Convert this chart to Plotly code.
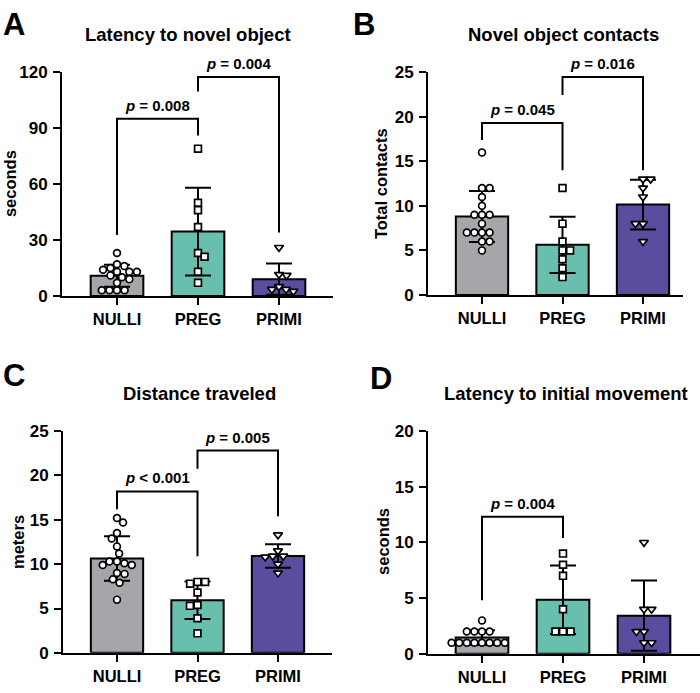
import numpy as np
import plotly.graph_objects as go

# ---------------- data ----------------
groups = ["NULLI", "PREG", "PRIMI"]
bar_colors = ["#a6a5aa", "#69bfae", "#5a4c9f"]
symbols = ["circle", "square", "triangle-down"]

# A: Latency to novel object (seconds)
a_nulli = [23, 17, 16, 15, 14, 13, 13, 13, 11, 10, 9, 7, 3, 3, 3, 3]
a_preg = [79, 50, 46, 37, 23, 21, 13, 7]
a_primi = [26, 11.5, 11, 5, 3.5, 3.5, 2.5]

# B: Novel object contacts (total contacts)
b_nulli = [16, 12, 12, 11, 10, 9, 9, 9, 8, 7, 7, 7, 7, 6, 6, 5]
b_preg = [12, 8, 6, 5, 5, 4, 3, 2]
b_primi = [13, 13, 12, 11, 8, 8, 6]

# C: Distance traveled (meters)
c_nulli = [15.2, 14.7, 13.5, 12.9, 12.0, 11.2, 10.3, 10.3, 10.1, 9.9, 9.9, 9.0, 8.9, 8.3, 7.9, 6.0]
c_preg = [8.0, 7.8, 8.0, 6.8, 5.3, 5.4, 3.9, 2.2]
c_primi = [13.3, 11.5, 10.9, 10.9, 10.8, 10.0, 9.0]

# D: Latency to initial movement (seconds)
d_nulli = [3, 2, 2, 2, 2, 1, 1, 1, 1, 1, 1, 1, 1]
d_preg = [9, 8, 7, 4, 2, 2, 2]
d_primi = [10, 4, 4, 2, 2, 1, 1]

panel_letters = ["A", "B", "C", "D"]
panel_titles = ["Latency to novel object", "Novel object contacts",
                "Distance traveled", "Latency to initial movement"]
y_titles = ["seconds", "Total contacts", "meters", "seconds"]
y_ticks = [[0, 30, 60, 90, 120], [0, 5, 10, 15, 20, 25],
           [0, 5, 10, 15, 20, 25], [0, 5, 10, 15, 20]]
panel_values = [[a_nulli, a_preg, a_primi], [b_nulli, b_preg, b_primi],
                [c_nulli, c_preg, c_primi], [d_nulli, d_preg, d_primi]]

# significance brackets: (left group, right group, bracket height, left leg end, right leg end, label)
brackets = [
    [(0, 1, 95, 32.7, 86, "p = 0.008"), (1, 2, 117.4, 109.6, 34, "p = 0.004")],
    [(0, 1, 19.3, 17.4, 14.0, "p = 0.045"), (1, 2, 24.45, 22.45, 14.0, "p = 0.016")],
    [(0, 1, 18.2, 16.2, 10.9, "p < 0.001"), (1, 2, 22.8, 20.75, 15.4, "p = 0.005")],
    [(0, 1, 12.3, 4.8, 10.4, "p = 0.004")],
]

# ---------------- layout geometry (pixels) ----------------
W, H = 700, 693
# (axis left, axis right, first category x, category spacing, plot top, plot bottom)
geom = [
    (62, 333, 117, 81, 65, 295),
    (428, 683, 482, 80.5, 65, 294),
    (63, 332, 117, 80.5, 434, 662),
    (428, 700, 482, 81, 434, 663),
]
title_pos = [(188, 26), (563, 26), (199, 395), (566, 395)]
letter_pos = [(1, 16), (351, 16), (1, 377), (368, 380)]
ytitle_pos = [(10, 180), (381, 180), (18, 548), (383, 548)]

FONT = "Liberation Sans, Arial, Helvetica, sans-serif"
MARKER_D = 7.6


def swarm(values, px_per_unit, diam):
    vals = np.asarray(values, dtype=float)
    order = np.argsort(-vals, kind="stable")
    placed = []
    offs = np.zeros(len(vals))
    flip = 1
    for idx in order:
        y = vals[idx] * px_per_unit
        ivs = []
        for (px, py) in placed:
            dy = y - py
            if abs(dy) < diam:
                w = np.sqrt(diam ** 2 - dy ** 2)
                ivs.append((px - w, px + w))
        cands = [0.0] + [e for iv in ivs for e in iv]
        valid = [c for c in cands
                 if all(not (a + 1e-6 < c < b - 1e-6) for a, b in ivs)]
        best_abs = min(abs(c) for c in valid)
        ties = [c for c in valid if abs(abs(c) - best_abs) < 1e-6]
        if len(ties) > 1:
            best = max(ties) if flip > 0 else min(ties)
            flip = -flip
        else:
            best = ties[0]
        offs[idx] = best
        placed.append((best, y))
    return offs


fig = go.Figure()
layout = dict(width=W, height=H, margin=dict(l=0, r=0, t=0, b=0),
              paper_bgcolor="white", plot_bgcolor="white",
              showlegend=False, font=dict(family=FONT, color="black"))
annotations = []

for p in range(4):
    axl, axr, cat0, step, top, bot = geom[p]
    ymax = y_ticks[p][-1]
    px_per_unit = (bot - top) / ymax
    xs = "x" if p == 0 else f"x{p+1}"
    ys = "y" if p == 0 else f"y{p+1}"
    xk = "xaxis" if p == 0 else f"xaxis{p+1}"
    yk = "yaxis" if p == 0 else f"yaxis{p+1}"
    xr = [-(cat0 - axl) / step, 2 + (axr - (cat0 + 2 * step)) / step]

    layout[xk] = dict(domain=[axl / W, axr / W], range=xr, anchor=ys,
                      tickvals=[0, 1, 2], ticktext=groups, showline=True,
                      linecolor="black", linewidth=2, ticks="outside",
                      ticklen=7, tickwidth=2, tickcolor="black",
                      showgrid=False, zeroline=False, fixedrange=True,
                      tickfont=dict(family=FONT, size=16.5, color="black", weight="bold"))
    layout[yk] = dict(domain=[1 - bot / H, 1 - top / H], range=[0, ymax], anchor=xs,
                      tickvals=y_ticks[p], showline=True, linecolor="black",
                      linewidth=2, ticks="outside", ticklen=7, tickwidth=2,
                      tickcolor="black", showgrid=False, zeroline=False,
                      fixedrange=True, ticklabelstandoff=2,
                      tickfont=dict(family=FONT, size=17, color="black", weight="bold"))

    vals = panel_values[p]
    means = [float(np.mean(v)) for v in vals]
    sds = [float(np.std(v, ddof=1)) for v in vals]
    fig.add_trace(go.Bar(x=[0, 1, 2], y=means, width=0.65, xaxis=xs, yaxis=ys,
                         marker=dict(color=bar_colors, line=dict(color="black", width=2)),
                         error_y=dict(type="data", array=sds, visible=True,
                                      color="black", thickness=2, width=13)))
    for g in range(3):
        offs = swarm(vals[g], px_per_unit, MARKER_D) / step
        msize = 6.8 if symbols[g] != "triangle-down" else 7.8
        fig.add_trace(go.Scatter(x=g + offs, y=vals[g], mode="markers",
                                 xaxis=xs, yaxis=ys, cliponaxis=False,
                                 marker=dict(symbol=symbols[g], size=msize, color="white",
                                             line=dict(color="black", width=1.7))))
    for (i, j, yb, yl, yr, lab) in brackets[p]:
        fig.add_trace(go.Scatter(x=[i, i, j, j], y=[yl, yb, yb, yr], mode="lines",
                                 xaxis=xs, yaxis=ys, cliponaxis=False,
                                 line=dict(color="black", width=2)))
        txt = "<i>p</i>" + lab[1:]
        annotations.append(dict(x=(i + j) / 2, y=yb, xref=xs, yref=ys, text=txt,
                                showarrow=False, yanchor="bottom", yshift=3,
                                font=dict(family=FONT, size=15, color="black", weight="bold")))

    tx, ty = title_pos[p]
    annotations.append(dict(x=tx / W, y=1 - ty / H, xref="paper", yref="paper",
                            text=panel_titles[p], showarrow=False, xanchor="center",
                            yanchor="middle",
                            font=dict(family=FONT, size=18.5, color="black", weight="bold")))
    lx, ly = letter_pos[p]
    annotations.append(dict(x=lx / W, y=1 - ly / H, xref="paper", yref="paper",
                            text=panel_letters[p], showarrow=False, xanchor="left",
                            yanchor="middle",
                            font=dict(family=FONT, size=31, color="black", weight="bold")))
    yx, yy = ytitle_pos[p]
    annotations.append(dict(x=yx / W, y=1 - yy / H, xref="paper", yref="paper",
                            text=y_titles[p], showarrow=False, textangle=-90,
                            xanchor="center", yanchor="middle",
                            font=dict(family=FONT, size=16.5, color="black", weight="bold")))

layout["annotations"] = annotations
fig.update_layout(**layout)
fig.write_html("out.html", config={"displayModeBar": False},
               post_script="document.body.style.margin='0';document.body.style.overflow='hidden';")
